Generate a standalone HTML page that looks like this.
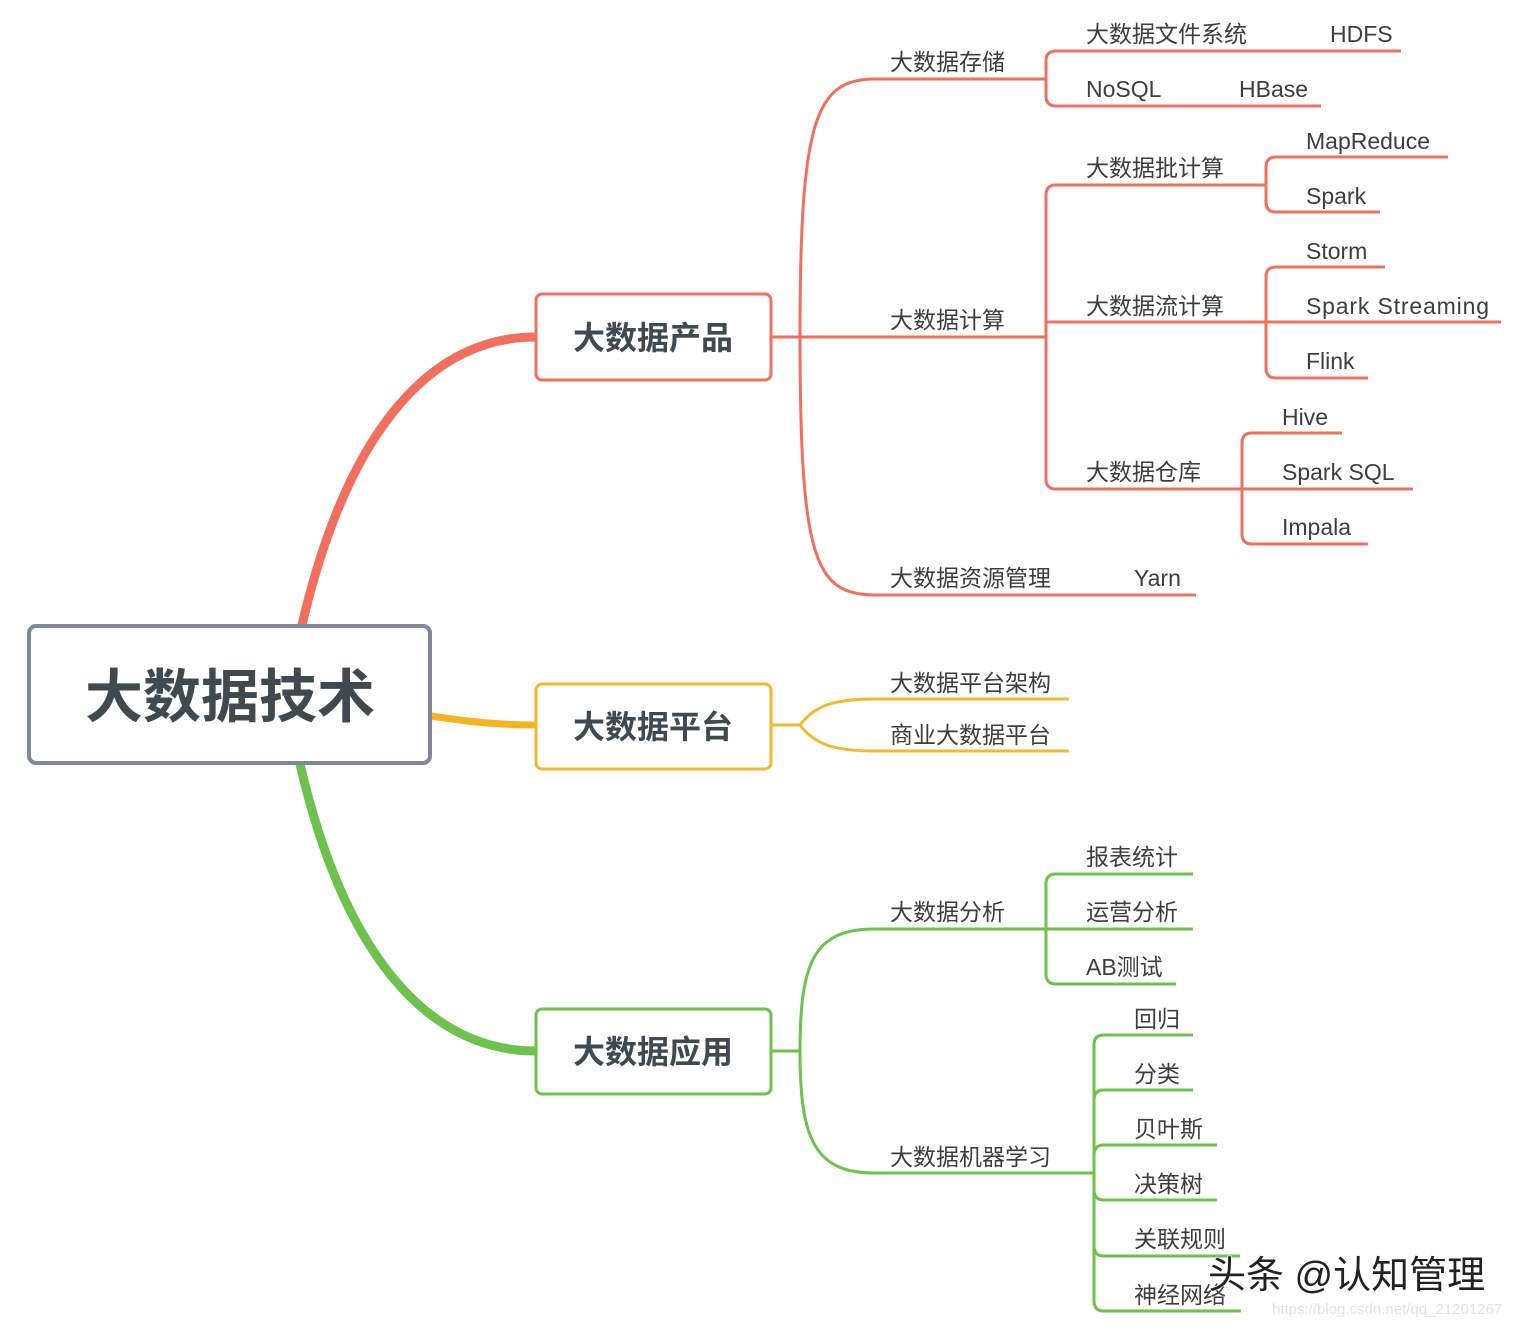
<!DOCTYPE html>
<html><head><meta charset="utf-8"><style>
html,body{margin:0;padding:0;background:#fff;}
svg{display:block;}
text{font-family:"Liberation Sans","Noto Sans CJK SC",sans-serif;fill:#3d3d3d;font-size:23px;}
.b{font-weight:bold;fill:#404850;}
</style></head><body>
<svg width="1526" height="1328" viewBox="0 0 1526 1328" xmlns="http://www.w3.org/2000/svg">
<!-- root connectors -->
<path d="M302,625 C345,440 425,337 536,337" fill="none" stroke="#f36f5d" stroke-width="9"/>
<path d="M431,716 C470,722 500,725 536,725" fill="none" stroke="#f5b41e" stroke-width="7"/>
<path d="M300,764 C343,950 425,1051 536,1051" fill="none" stroke="#6cc24a" stroke-width="9"/>

<g fill="none" stroke="#f0705e" stroke-width="3" stroke-linecap="butt">
<path d="M771,337 L800,337"/>
<path d="M800,337 C800,120 815,79 875,79 L1046,79"/>
<path d="M800,337 L1046,337"/>
<path d="M800,337 C800,560 815,595 875,595 L1196,595"/>
<path d="M1046,79 L1046,61 Q1046,51 1056,51 L1401,51"/>
<path d="M1046,79 L1046,96 Q1046,106 1056,106 L1321,106"/>
<path d="M1046,337 L1046,195 Q1046,185 1056,185 L1266,185"/>
<path d="M1046,337 L1046,322 L1266,322"/>
<path d="M1046,337 L1046,479 Q1046,489 1056,489 L1242,489"/>
<path d="M1266,185 L1266,167 Q1266,157 1276,157 L1448,157"/>
<path d="M1266,185 L1266,202 Q1266,212 1276,212 L1380,212"/>
<path d="M1266,322 L1266,277 Q1266,267 1276,267 L1385,267"/>
<path d="M1266,322 L1501,322"/>
<path d="M1266,322 L1266,368 Q1266,378 1276,378 L1368,378"/>
<path d="M1242,489 L1242,443 Q1242,433 1252,433 L1342,433"/>
<path d="M1242,489 L1413,489"/>
<path d="M1242,489 L1242,534 Q1242,544 1252,544 L1368,544"/>
</g>

<g fill="none" stroke="#f5b82c" stroke-width="3">
<path d="M771,725 L800,725"/>
<path d="M800,725 C815,705 835,699 875,699 L1069,699"/>
<path d="M800,725 C815,745 835,751 875,751 L1069,751"/>
</g>

<g fill="none" stroke="#6cc24a" stroke-width="3">
<path d="M771,1051 L800,1051"/>
<path d="M800,1051 C800,960 815,929 875,929 L1046,929"/>
<path d="M800,1051 C800,1140 815,1173 875,1173 L1094,1173"/>
<path d="M1046,929 L1046,884 Q1046,874 1056,874 L1193,874"/>
<path d="M1046,929 L1193,929"/>
<path d="M1046,929 L1046,974 Q1046,984 1056,984 L1176,984"/>
<path d="M1094,1173 L1094,1045 Q1094,1035 1104,1035 L1193,1035"/>
<path d="M1094,1173 L1094,1100 Q1094,1090 1104,1090 L1193,1090"/>
<path d="M1094,1173 L1094,1155 Q1094,1145 1104,1145 L1217,1145"/>
<path d="M1094,1173 L1094,1190 Q1094,1200 1104,1200 L1217,1200"/>
<path d="M1094,1173 L1094,1246 Q1094,1256 1104,1256 L1240,1256"/>
<path d="M1094,1173 L1094,1301 Q1094,1311 1104,1311 L1241,1311"/>
</g>

<rect x="29" y="626" width="401" height="137" rx="7" fill="#fff" stroke="#7f8898" stroke-width="4"/>
<text x="230" y="717" text-anchor="middle" class="b" style="font-size:58px">大数据技术</text>
<rect x="536" y="294" width="235" height="86" rx="6" fill="#fff" stroke="#f0705e" stroke-width="3"/>
<text x="653" y="349" text-anchor="middle" class="b" style="font-size:32px">大数据产品</text>
<rect x="536" y="684" width="235" height="85" rx="6" fill="#fff" stroke="#f5b82c" stroke-width="3"/>
<text x="653" y="738" text-anchor="middle" class="b" style="font-size:32px">大数据平台</text>
<rect x="536" y="1009" width="235" height="85" rx="6" fill="#fff" stroke="#6cc24a" stroke-width="3"/>
<text x="653" y="1063" text-anchor="middle" class="b" style="font-size:32px">大数据应用</text>

<text x="890" y="70">大数据存储</text>
<text x="890" y="328">大数据计算</text>
<text x="890" y="586">大数据资源管理</text>
<text x="1134" y="586">Yarn</text>
<text x="1086" y="42">大数据文件系统</text>
<text x="1330" y="42">HDFS</text>
<text x="1086" y="97">NoSQL</text>
<text x="1239" y="97">HBase</text>
<text x="1086" y="176">大数据批计算</text>
<text x="1086" y="314">大数据流计算</text>
<text x="1086" y="480">大数据仓库</text>
<text x="1306" y="149">MapReduce</text>
<text x="1306" y="204">Spark</text>
<text x="1306" y="259">Storm</text>
<text x="1306" y="314" textLength="183">Spark Streaming</text>
<text x="1306" y="369">Flink</text>
<text x="1282" y="425">Hive</text>
<text x="1282" y="480">Spark SQL</text>
<text x="1282" y="535">Impala</text>
<text x="890" y="691">大数据平台架构</text>
<text x="890" y="743">商业大数据平台</text>
<text x="890" y="920">大数据分析</text>
<text x="890" y="1165">大数据机器学习</text>
<text x="1086" y="865">报表统计</text>
<text x="1086" y="920">运营分析</text>
<text x="1086" y="975">AB测试</text>
<text x="1134" y="1027">回归</text>
<text x="1134" y="1082">分类</text>
<text x="1134" y="1137">贝叶斯</text>
<text x="1134" y="1192">决策树</text>
<text x="1134" y="1247">关联规则</text>
<text x="1134" y="1303">神经网络</text>

<text x="1208" y="1288" style="font-size:38px;fill:#222;stroke:#fff;stroke-width:1.5px;paint-order:stroke">头条 @认知管理</text>
<text x="1272" y="1314" style="font-size:15px;fill:#e2e2e2">https://blog.csdn.net/qq_21201267</text>
</svg>
</body></html>
